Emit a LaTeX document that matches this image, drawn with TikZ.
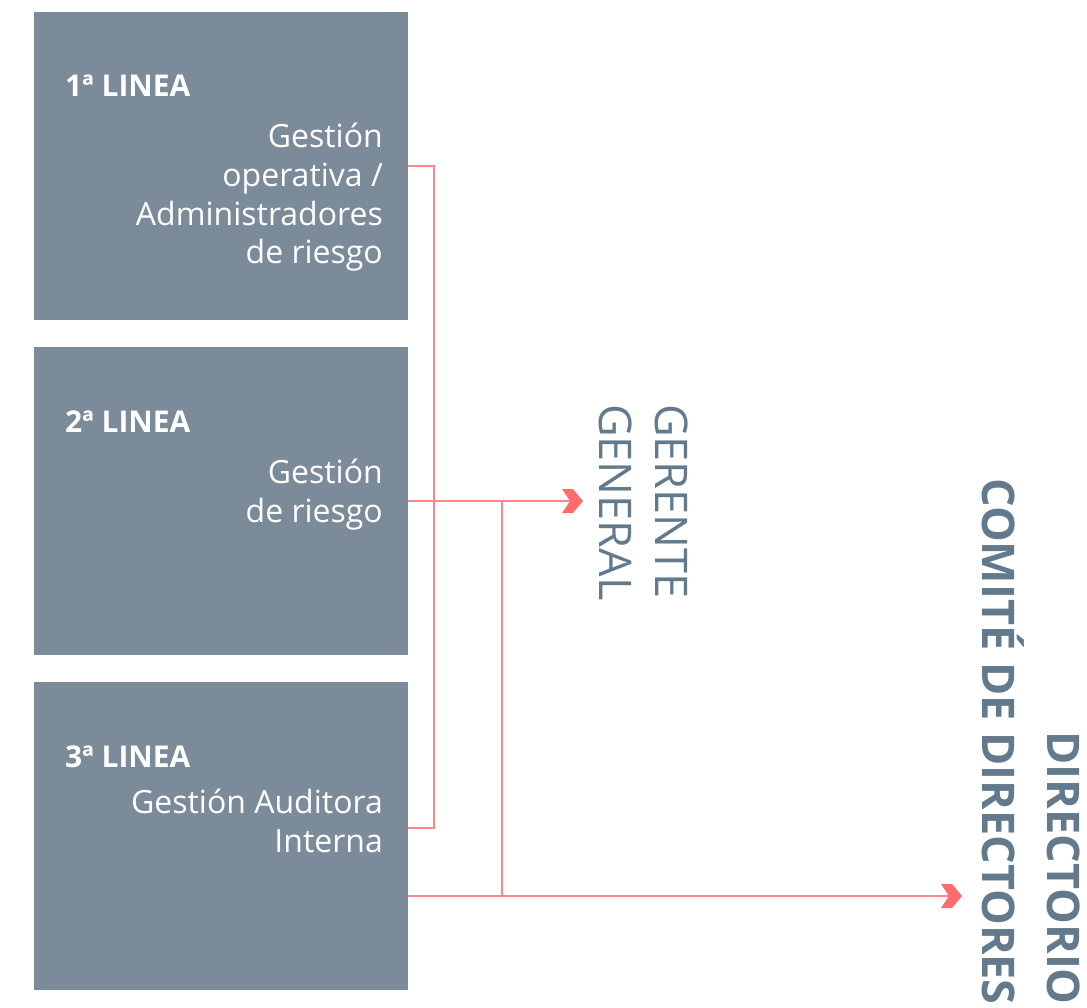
\documentclass[tikz,border=0pt]{standalone}
\usepackage{fontspec}
\setmainfont{Open Sans}
\begin{document}
\begin{tikzpicture}[x=1pt,y=-1pt,
  box/.style={fill=boxgray, draw=none, minimum width=374pt, minimum height=308pt, inner sep=0pt},
  head/.style={text=white, font=\bfseries\fontsize{30}{36}\selectfont, anchor=base west, inner sep=0pt},
  desc/.style={text=white, font=\fontsize{32}{38.7}\selectfont, align=right, anchor=base east, inner sep=0pt},
  conn/.style={draw=linered, line width=1.4pt},
  chev/.pic={\fill[chevred] (-21,-12) -- (-10,-12) -- (0,0) -- (-10,12) -- (-21,12) -- (-13,0) -- cycle;}
]
\definecolor{boxgray}{RGB}{123,139,154}
\definecolor{linered}{RGB}{255,135,135}
\definecolor{chevred}{RGB}{255,108,108}
\definecolor{labgray}{RGB}{98,122,140}
\useasboundingbox (0,0) rectangle (1087,1008);

\node[box] (box1) at (221,166) {};
\node[box] (box2) at (221,501) {};
\node[box] (box3) at (221,836) {};

\node[head] (h1) at (65,97) {1ª LINEA};
\node[head] (h2) at (65,432) {2ª LINEA};
\node[head] (h3) at (65,767) {3ª LINEA};

\node[desc] (d1) at (383,264) {Gestión\\operativa /\\Administradores\\de riesgo};
\node[desc] (d2) at (383,522) {Gestión\\de riesgo};
\node[desc] (d3) at (383,852) {Gestión Auditora\\Interna};

\coordinate (tip1) at (583,501);
\coordinate (tip2) at (962,896);
\coordinate (bus1) at (434,828);
\coordinate (bus2) at (502,0);

\draw[conn] (box1.east) -| (bus1) -- (bus1 -| box3.east);
\draw[conn] (box2.east) -- ([xshift=-12pt]tip1);
\draw[conn] (bus2 |- box2.east) -- (bus2 |- tip2);
\draw[conn] (box3.east |- tip2) -- ([xshift=-12pt]tip2);
\pic at (tip1) {chev};
\pic at (tip2) {chev};

\node[rotate=-90, anchor=base west, inner sep=0pt, align=left, text=labgray,
  font=\fontsize{45}{56}\selectfont] (gg) at (599,404) {GERENTE\\GENERAL};
\node[rotate=-90, anchor=base east, inner sep=0pt, align=right, text=labgray,
  font=\bfseries\fontsize{45}{65}\selectfont] (dir) at (982,1005) {DIRECTORIO\\COMITÉ DE DIRECTORES};
\end{tikzpicture}
\end{document}
